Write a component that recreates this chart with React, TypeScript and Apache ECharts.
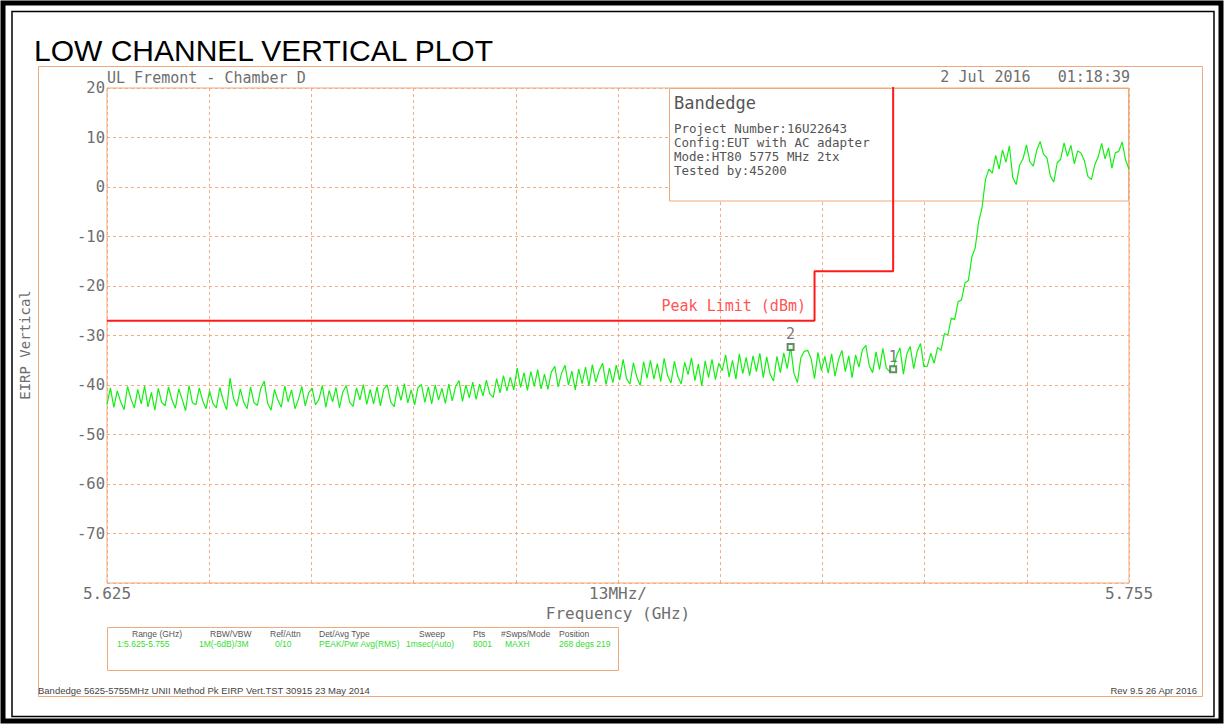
import React, { useEffect, useRef } from "react";
import * as echarts from "echarts";

// ---------- DATA ----------
const FREQ_START_GHZ = 5.625;
const FREQ_STOP_GHZ = 5.755;
const X_STEP_MHZ = 13;

// EIRP vertical trace (dBm), evenly spaced sweep points from start to stop
const traceLevels: number[] = [
  -43.9, -40.6, -44.5, -41.2, -43.4, -45.0, -40.3, -42.8, -44.6, -40.9,
  -43.8, -40.2, -44.4, -41.5, -45.1, -40.7, -43.5, -44.2, -40.4, -43.0,
  -44.7, -40.8, -42.9, -45.2, -40.1, -43.6, -44.0, -40.6, -43.2, -44.8,
  -41.2, -43.7, -44.6, -40.5, -43.1, -45.0, -38.6, -42.7, -44.3, -40.8,
  -43.5, -44.8, -40.4, -43.6, -44.1, -40.7, -39.2, -43.7, -45.1, -40.9,
  -43.1, -44.5, -40.2, -43.4, -41.0, -44.8, -42.9, -40.3, -44.2, -41.6,
  -40.6, -44.0, -42.9, -40.1, -44.5, -41.1, -43.4, -40.5, -44.6, -41.4,
  -40.1, -43.5, -44.3, -40.6, -43.0, -39.9, -43.9, -40.9, -43.8, -40.4,
  -44.2, -40.8, -40.0, -43.4, -44.4, -40.3, -43.1, -39.7, -43.6, -41.0,
  -44.0, -40.5, -39.9, -43.5, -40.4, -43.8, -40.0, -43.0, -40.7, -43.7,
  -39.8, -43.2, -40.3, -39.1, -43.3, -40.0, -42.6, -39.4, -42.9, -39.8,
  -42.2, -39.0, -41.8, -42.5, -38.7, -41.6, -38.1, -41.2, -38.4, -41.0,
  -36.6, -40.5, -37.5, -41.1, -37.3, -40.3, -36.9, -40.8, -37.8, -40.9,
  -37.4, -36.2, -40.4, -37.6, -36.0, -40.0, -37.2, -41.0, -36.8, -39.7,
  -36.4, -40.2, -35.9, -39.4, -37.1, -35.6, -39.9, -36.6, -39.5, -36.0,
  -39.0, -34.8, -38.7, -39.8, -35.5, -38.4, -40.1, -35.3, -38.6, -35.0,
  -38.8, -35.7, -39.3, -34.6, -38.1, -39.6, -35.2, -38.3, -39.8, -35.4,
  -37.9, -34.5, -39.1, -35.8, -40.2, -35.1, -38.5, -34.8, -38.9, -35.6,
  -37.1, -33.9, -38.4, -35.0, -38.8, -33.7, -37.7, -34.4, -38.1, -34.1,
  -37.3, -33.6, -38.5, -34.3, -37.8, -39.2, -34.2, -37.5, -33.5, -36.7,
  -32.3, -37.7, -39.5, -34.5, -33.2, -33.0, -34.7, -38.7, -33.4, -37.1,
  -34.2, -37.6, -33.7, -38.2, -34.9, -33.0, -37.3, -34.1, -38.5, -33.9,
  -36.4, -32.9, -32.0, -36.1, -37.5, -33.3, -36.9, -32.6, -36.6, -37.3,
  -36.8, -34.1, -32.5, -37.8, -33.7, -32.2, -36.7, -33.3, -31.6, -36.3,
  -36.2, -33.6, -35.6, -32.4, -33.0, -29.6, -29.9, -26.5, -26.8, -23.2,
  -22.8, -19.4, -18.9, -14.2, -12.3, -7.1, -4.2, 1.5, 3.6,
  2.8, 6.4, 3.6, 7.5, 5.0, 8.3, 1.9, 0.5, 4.4, 5.7,
  8.5, 5.1, 4.2, 7.4, 9.2, 6.6, 5.9, 2.2, 1.0, 4.9,
  5.6, 8.9, 6.2, 8.4, 4.7, 7.3, 6.8, 5.2, 2.1, 1.5,
  4.5, 6.1, 8.8, 5.7, 7.9, 3.8, 6.9, 7.2, 9.1, 5.5,
  3.6,
];

// Peak limit (dBm)
const limitFreqGHz = [5.625, 5.715, 5.715, 5.725, 5.725, 5.755];
const limitLevel = [-27, -27, -17, -17, 27, 27];

// Markers
const markerNames = ["2", "1"];
const markerIndex = [200, 230];

// Axis
const yMin = -80;
const yMax = 20;
const yInterval = 10;

const titleText = "LOW CHANNEL VERTICAL PLOT";
const siteText = "UL Fremont - Chamber D";
const dateText = "2 Jul 2016   01:18:39";
const annotationTitle = "Bandedge";
const annotationLines = [
  "Project Number:16U22643",
  "Config:EUT with AC adapter",
  "Mode:HT80 5775 MHz 2tx",
  "Tested by:45200",
];
const limitLabel = "Peak Limit (dBm)";
const yAxisTitle = "EIRP Vertical";
const xAxisTitle = "Frequency (GHz)";
const tableHeaders = ["Range (GHz)", "RBW/VBW", "Ref/Attn", "Det/Avg Type", "Sweep", "Pts", "#Swps/Mode", "Position"];
const tableValues = ["1:5.625-5.755", "1M(-6dB)/3M", "0/10", "PEAK/Pwr Avg(RMS)", "1msec(Auto)", "8001", "MAXH", "268 degs 219"];
const footerLeft = "Bandedge 5625-5755MHz UNII Method Pk EIRP Vert.TST 30915 23 May 2014";
const footerRight = "Rev 9.5 26 Apr 2016";

// ---------- LAYOUT ----------
const tableHeaderX = [132, 210, 270, 319, 419, 473, 501, 559];
const tableValueX = [117, 199, 275, 319, 406, 473, 505, 559];

const ORANGE = "#eeaa78";
const GRIDC = "#f2ae82";
const MONO = '"DejaVu Sans Mono", monospace';
const LABEL = "#6e6e6e";

export default function App() {
  const ref = useRef<HTMLDivElement>(null);

  useEffect(() => {
    if (!ref.current) return;
    const chart = echarts.init(ref.current, undefined, { renderer: "svg" });

    const toMHz = (g: number) => (g - FREQ_START_GHZ) * 1000;
    const span = FREQ_STOP_GHZ - FREQ_START_GHZ;
    const n = traceLevels.length;
    const freqAt = (i: number) => FREQ_START_GHZ + (i * span) / (n - 1);
    const traceData = traceLevels.map((v, i) => [toMHz(freqAt(i)), v]);
    const limitData = limitFreqGHz.map((f, i) => [toMHz(f), limitLevel[i]]);
    const markerData = markerNames.map((name, k) => ({
      name,
      value: [toMHz(freqAt(markerIndex[k])), traceLevels[markerIndex[k]]],
    }));

    const spanMHz = toMHz(FREQ_STOP_GHZ);

    const graphic: any[] = [
      // outer black frames
      { type: "rect", z: 10, shape: { x: 3, y: 3, width: 1218, height: 718 }, style: { fill: "none", stroke: "#000", lineWidth: 5 } },
      { type: "rect", z: 10, shape: { x: 12, y: 11.5, width: 1202, height: 705 }, style: { fill: "none", stroke: "#000", lineWidth: 1.5 } },
      // orange page frame
      { type: "rect", z: 0, shape: { x: 38.5, y: 66.5, width: 1164, height: 630 }, style: { fill: "none", stroke: ORANGE, lineWidth: 1 } },
      // title
      { type: "text", x: 34, y: 50, style: { text: titleText, fill: "#000", font: '30px "Liberation Sans", Arial, sans-serif', verticalAlign: "middle" } },
      { type: "text", x: 107, y: 78, style: { text: siteText, fill: LABEL, font: `15px ${MONO}`, verticalAlign: "middle" } },
      { type: "text", x: 1130, y: 77, style: { text: dateText, fill: LABEL, font: `15px ${MONO}`, align: "right", verticalAlign: "middle" } },
      // annotation box
      { type: "rect", z: 1, shape: { x: 669.5, y: 88.5, width: 459, height: 112.5 }, style: { fill: "#fff", stroke: ORANGE, lineWidth: 1 } },
      { type: "text", z: 1, x: 674, y: 103, style: { text: annotationTitle, fill: "#555", font: `17px ${MONO}`, verticalAlign: "middle" } },
      ...annotationLines.map((t, i) => ({
        type: "text", z: 1, x: 674, y: 128 + i * 14,
        style: { text: t, fill: "#555", font: `12.5px ${MONO}`, verticalAlign: "middle" },
      })),
      // limit label
      { type: "text", z: 3, x: 806, y: 306, style: { text: limitLabel, fill: "#ff5555", font: `15px ${MONO}`, align: "right", verticalAlign: "middle" } },
      // y axis title
      { type: "text", x: 25, y: 345, rotation: Math.PI / 2, style: { text: yAxisTitle, fill: LABEL, font: `14px ${MONO}`, align: "center", verticalAlign: "middle" } },
      // table
      { type: "rect", shape: { x: 107.5, y: 627.5, width: 511, height: 43 }, style: { fill: "none", stroke: ORANGE, lineWidth: 1 } },
      ...tableHeaders.map((t, i) => ({
        type: "text", x: tableHeaderX[i], y: 634,
        style: { text: t, fill: "#555", font: '8.5px "Liberation Sans", Arial, sans-serif', verticalAlign: "middle" },
      })),
      ...tableValues.map((t, i) => ({
        type: "text", x: tableValueX[i], y: 644,
        style: { text: t, fill: "#33dd33", font: '8.5px "Liberation Sans", Arial, sans-serif', verticalAlign: "middle" },
      })),
      // footer
      { type: "text", x: 38, y: 690, style: { text: footerLeft, fill: "#444", font: '9.5px "Liberation Sans", Arial, sans-serif', verticalAlign: "middle" } },
      { type: "text", x: 1197, y: 690, style: { text: footerRight, fill: "#444", font: '9.5px "Liberation Sans", Arial, sans-serif', align: "right", verticalAlign: "middle" } },
    ];

    chart.setOption({
      animation: false,
      backgroundColor: "#fff",
      grid: { left: 107, right: 96, top: 88, bottom: 141, show: true, borderColor: ORANGE, borderWidth: 1, backgroundColor: "transparent" },
      xAxis: {
        type: "value",
        min: 0,
        max: spanMHz,
        interval: X_STEP_MHZ,
        name: xAxisTitle,
        nameLocation: "middle",
        nameGap: 20,
        nameTextStyle: { color: LABEL, fontFamily: MONO, fontSize: 16 },
        axisLine: { show: false },
        axisTick: { show: false },
        axisLabel: {
          color: LABEL,
          fontFamily: MONO,
          fontSize: 16,
          margin: 2,
          formatter: (v: number) => {
            if (Math.abs(v) < 1e-6) return FREQ_START_GHZ.toFixed(3);
            if (Math.abs(v - spanMHz) < 1e-6) return FREQ_STOP_GHZ.toFixed(3);
            if (Math.abs(v - spanMHz / 2) < 1e-6) return `${X_STEP_MHZ}MHz/`;
            return "";
          },
        },
        splitLine: { show: true, lineStyle: { color: GRIDC, type: [3, 3], width: 1 } },
      },
      yAxis: {
        type: "value",
        min: yMin,
        max: yMax,
        interval: yInterval,
        axisLine: { show: false },
        axisTick: { show: false },
        axisLabel: {
          color: LABEL,
          fontFamily: MONO,
          fontSize: 15.5,
          margin: 2,
          formatter: (v: number) => (v === yMin ? "" : String(v)),
        },
        splitLine: { show: true, lineStyle: { color: GRIDC, type: [3, 3], width: 1 } },
      },
      graphic,
      series: [
        {
          type: "line",
          data: traceData,
          showSymbol: false,
          symbol: "none",
          z: 3,
          lineStyle: { color: "#12f012", width: 1.2 },
        },
        {
          type: "line",
          data: limitData,
          showSymbol: false,
          symbol: "none",
          z: 4,
          lineStyle: { color: "#ff1a1a", width: 2 },
        },
        {
          type: "scatter",
          data: markerData,
          symbol: "emptyRect",
          symbolSize: 6,
          z: 5,
          itemStyle: { color: "#3f6f3f", borderColor: "#3f6f3f", borderWidth: 1 },
          label: {
            show: true,
            position: "top",
            distance: 1,
            formatter: (p: any) => p.name,
            color: "#555",
            fontFamily: MONO,
            fontSize: 15,
          },
        },
      ],
    });

    return () => chart.dispose();
  }, []);

  return (
    <div
      ref={ref}
      style={{ position: "absolute", left: 0, top: 0, width: 1225, height: 724, background: "#fff" }}
    />
  );
}
